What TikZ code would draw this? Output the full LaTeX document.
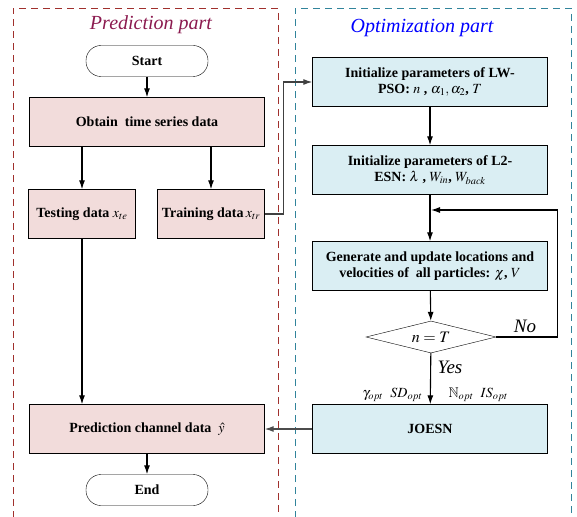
\documentclass[tikz,border=0pt]{standalone}
\usepackage{amssymb}
\usepackage{mathptmx}
\usepackage{fontspec}
\setmainfont{Liberation Serif}
\usetikzlibrary{
  arrows.meta,
  positioning,
  shapes.geometric,
}
\tikzset{
  >={Latex[width=6pt,length=9pt]},
}
\definecolor{predfill}{HTML}{F2DCDB}
\definecolor{optfill}{HTML}{DAEEF3}
\definecolor{predline}{HTML}{A0302D}
\definecolor{optline}{HTML}{31849B}
\definecolor{predtitle}{HTML}{8B1A4F}

\begin{document}
\begin{tikzpicture}[x=1pt, y=-1pt,
        every node/.style={align=center, font=\fontsize{14}{16}\selectfont\bfseries},
        predbox/.style={draw, fill=predfill, minimum width=235pt, minimum height=49pt},
        smallbox/.style={draw, fill=predfill, minimum width=107pt, minimum height=49pt, inner sep=1pt},
        optbox/.style={draw, fill=optfill, minimum width=235pt, minimum height=49pt, inner sep=1pt},
        terminal/.style={draw, rounded corners=15pt, minimum width=122pt, minimum height=31pt},
        decision/.style={draw, diamond, aspect=4, inner sep=0pt, minimum width=130pt, minimum height=32pt,
          font=\fontsize{16}{18}\selectfont},
        lbl/.style={font=\fontsize{19}{21}\selectfont\itshape},
        title/.style={font=\fontsize{20}{23}\selectfont\itshape},
        frame/.style={line width=0.9pt, dash pattern=on 7pt off 5pt},
        flow/.style={->, line width=1.1pt},
      ]
      \useasboundingbox (0,0) rectangle (577,516);
      % dashed frames of the two parts
      \draw[frame, predline] (13,530) -- (13,8) -- (278,8) -- (278,530);
      \draw[frame, optline] (295,530) -- (295,8) -- (571,8) -- (571,530);
      \node[title, text=predtitle] (predtitle) at (151,25) {Prediction part};
      \node[title, text=blue] (opttitle) at (422,28) {Optimization part};

      % prediction part
      \node[terminal] (start) at (147,61) {Start};
      \node[predbox] (obtain) at (147,122) {Obtain\ \ time series data};
      \node[smallbox] (testing) at (82,214) {Testing data $x_{te}$};
      \node[smallbox] (training) at (211,214) {Training data\,$x_{tr}$};
      \node[predbox] (predict) at (147,429) {Prediction channel data\ \ $\hat{y}$};
      \node[terminal] (end) at (147,490) {End};

      % optimization part
      \node[optbox] (initpso) at (430,82) {
        Initialize parameters of LW-\\
        PSO: $n$\ , $\alpha_1, \alpha_2$,\ $T$
      };
      \node[optbox] (initesn) at (430,170) {
        Initialize parameters of L2-\\
        ESN: $\lambda$\ , $W_{in}$, $W_{back}$
      };
      \node[optbox] (update) at (430,266) {
        Generate and update locations and\\
        velocities of\ \ all particles: $\chi$,\ $V$
      };
      \node[decision] (check) at (431,337) {$n = T$};
      \node[optbox] (joesn) at (430,429) {JOESN};
      \coordinate (loopin) at (431,210);

      \node[lbl] (no) at (525,326) {No};
      \node[lbl] (yes) at (450,367) {Yes};
      \node[font=\fontsize{14}{16}\selectfont, anchor=east] (optleft) at (426,395)
        {$\gamma_{opt}$\ \ $SD_{opt}$};
      \node[font=\fontsize{14}{16}\selectfont, anchor=west] (optright) at (445,395)
        {$\mathbb{N}_{opt}$\ \ $IS_{opt}$};

      \draw[flow] (start) -- (obtain);
      \draw[flow] (obtain.south -| testing) -- (testing);
      \draw[flow] (obtain.south -| training) -- (training);
      \draw[flow] (testing) -- (testing |- predict.north);
      \draw[flow] (predict) -- (end);
      \draw[flow, black!75] (training.east) -- ++(19,0) |- (initpso.west);
      \draw[flow] (initpso) -- (initesn);
      \draw[flow] (initesn) -- (update);
      \draw[flow] (update) -- (check);
      \draw[flow] (check) -- (joesn);
      \draw[flow] (check.east) -- ++(61,0) |- (loopin);
      \draw[flow, black!70] (joesn) -- (predict);
    \end{tikzpicture}
\end{document}
